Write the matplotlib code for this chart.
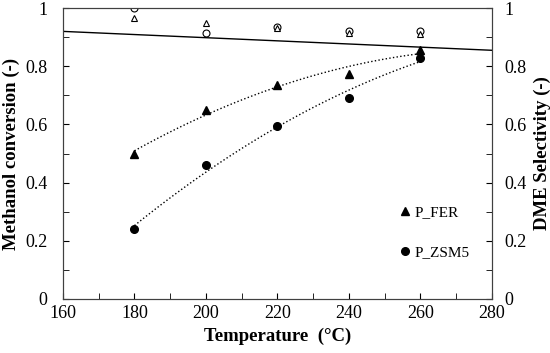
import numpy as np
import matplotlib
matplotlib.use("Agg")
import matplotlib.pyplot as plt
from matplotlib.ticker import MultipleLocator, FuncFormatter

plt.rcParams['font.family'] = ['Liberation Serif', 'DejaVu Serif']

temp = [180, 200, 220, 240, 260]
conv_fer = [0.50, 0.65, 0.735, 0.775, 0.855]
conv_zsm5 = [0.24, 0.46, 0.595, 0.69, 0.83]
sel_zsm5 = [1.0, 0.915, 0.935, 0.92, 0.92]
sel_fer = [0.965, 0.95, 0.93, 0.915, 0.91]
eq_temp = [160, 280]
eq_sel = [0.92, 0.855]

fig, ax = plt.subplots(figsize=(5.5, 3.53), dpi=100)
fig.subplots_adjust(left=0.1145, right=0.8945, top=0.977, bottom=0.153)
ax2 = ax.twinx()

# trend lines (quadratic fits)
tt = np.linspace(180, 260, 100)
for y in (conv_fer, conv_zsm5):
    c = np.polyfit(temp, y, 2)
    ax.plot(tt, np.polyval(c, tt), ':', color='black', lw=1.0)

ax.plot(temp, conv_fer, '^', color='black', ms=5.5, label='P_FER')
ax.plot(temp, conv_zsm5, 'o', color='black', ms=5.5, label='P_ZSM5')

ax2.plot(temp, sel_zsm5, 'o', mfc='white', mec='black', ms=5, mew=0.8)
ax2.plot(temp, sel_fer, '^', mfc='white', mec='black', ms=5, mew=0.8)
ax2.plot(eq_temp, eq_sel, '-', color='black', lw=1.0)

fmt = FuncFormatter(lambda v, p: '%g' % round(v, 2))
for a in (ax, ax2):
    a.set_ylim(0, 1)
    a.yaxis.set_major_locator(MultipleLocator(0.2))
    a.yaxis.set_minor_locator(MultipleLocator(0.1))
    a.yaxis.set_major_formatter(fmt)
    a.tick_params(axis='both', which='both', direction='in', labelsize=13)
    a.tick_params(which='both', length=4)
    for s in a.spines.values():
        s.set_color('#404040')
ax.tick_params(axis='y', which='major', pad=11)
ax2.tick_params(axis='y', which='major', pad=9)
ax.set_xlim(160, 280)
ax.xaxis.set_major_locator(MultipleLocator(20))
ax.xaxis.set_minor_locator(MultipleLocator(10))
ax.tick_params(axis='x', which='both', top=False)
ax.tick_params(axis='x', which='major', pad=4)

ax.set_xlabel('Temperature  (°C)', fontsize=13.5, fontweight='bold')
ax.set_ylabel('Methanol conversion (-)', fontsize=13.5, fontweight='bold')
ax2.set_ylabel('DME Selectivity (-)', fontsize=13.5, fontweight='bold')
ax.xaxis.set_label_coords(0.5, -0.1)
ax.yaxis.set_label_coords(-0.1, 0.5)
ax2.yaxis.set_label_coords(1.097, 0.5)

ax.legend(loc='lower right', bbox_to_anchor=(0.98, 0.09), frameon=False,
          fontsize=11, handlelength=0.6, handletextpad=0.3, labelspacing=1.7)

fig.savefig('out.png', dpi=100)
